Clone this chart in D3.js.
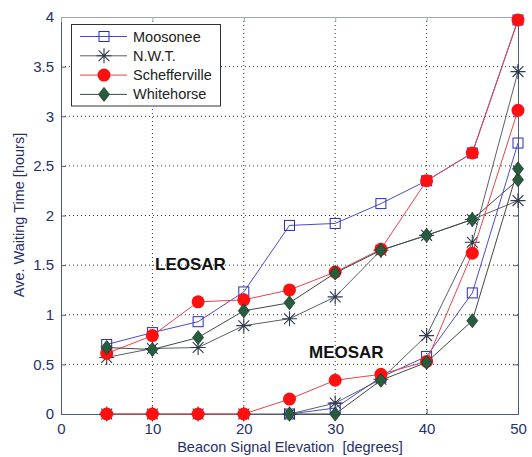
<!DOCTYPE html>
<html>
<head>
<meta charset="utf-8">
<script src="https://cdn.jsdelivr.net/npm/d3@7"></script>
<style>
  body { margin: 0; background: #fff; }
  text { font-family: "Liberation Sans", Arial, sans-serif; }
</style>
</head>
<body>
<div class="chart"></div>
<script>
// data
let elevations = [5, 10, 15, 20, 25, 30, 35, 40, 45, 50];
let xTicks = [0, 10, 20, 30, 40, 50];
let yTicks = [0, 0.5, 1, 1.5, 2, 2.5, 3, 3.5, 4];

// LEOSAR curves
let leoMoosonee = [0.70, 0.82, 0.93, 1.23, 1.90, 1.92, 2.12, 2.35, 2.63, 3.97];
let leoNWT = [0.57, 0.66, 0.67, 0.89, 0.96, 1.18, 1.65, 1.80, 1.96, 2.15];
let leoSchefferville = [0.61, 0.79, 1.13, 1.15, 1.25, 1.43, 1.66, 2.35, 2.63, 3.97];
let leoWhitehorse = [0.67, 0.65, 0.77, 1.04, 1.12, 1.42, 1.65, 1.80, 1.96, 2.36];

// MEOSAR curves (null = no point)
let meoMoosonee = [null, null, null, null, 0, 0.06, 0.37, 0.58, 1.22, 2.73];
let meoNWT = [0, 0, 0, 0, 0, 0.11, 0.35, 0.79, 1.73, 3.45];
let meoSchefferville = [0, 0, 0, 0, 0.15, 0.34, 0.40, 0.53, 1.62, 3.06];
let meoWhitehorse = [null, null, null, null, 0, 0, 0.34, 0.52, 0.94, 2.47];

let seriesNames = ['Moosonee', 'N.W.T.', 'Schefferville', 'Whitehorse'];

let styles = {
  'Moosonee': { line: '#4a4ad0', mark: '#2b2bb8', type: 'square' },
  'N.W.T.': { line: '#5a5f66', mark: '#2f3a4e', type: 'star' },
  'Schefferville': { line: '#e8444c', mark: '#ff1010', type: 'circle' },
  'Whitehorse': { line: '#3f4a44', mark: '#275c3e', type: 'diamond' }
};

let series = [
  { name: 'Moosonee', values: leoMoosonee },
  { name: 'N.W.T.', values: leoNWT },
  { name: 'Schefferville', values: leoSchefferville },
  { name: 'Whitehorse', values: leoWhitehorse },
  { name: 'Moosonee', values: meoMoosonee },
  { name: 'N.W.T.', values: meoNWT },
  { name: 'Schefferville', values: meoSchefferville },
  { name: 'Whitehorse', values: meoWhitehorse }
];

let margin = { left: 61, right: 14, top: 17, bottom: 43 };
let width = 532, height = 457;

let svg = d3.select('.chart').append('svg')
    .attr('width', width)
    .attr('height', height);

let x = d3.scaleLinear().domain([0, 50]).range([margin.left, width - margin.right]);
let y = d3.scaleLinear().domain([0, 4]).range([height - margin.bottom, margin.top]);

let navy = '#27306a';

/////// GRID ///////////////////////////////////////

svg.append('g').selectAll('line')
  .data(xTicks.slice(1, -1))
  .enter().append('line')
    .attr('x1', d => x(d)).attr('x2', d => x(d))
    .attr('y1', y(0)).attr('y2', y(4))
    .attr('stroke', '#333').attr('stroke-width', 1)
    .attr('stroke-dasharray', '1,3');

svg.append('g').selectAll('line')
  .data(yTicks.slice(1, -1))
  .enter().append('line')
    .attr('x1', x(0)).attr('x2', x(50))
    .attr('y1', d => y(d)).attr('y2', d => y(d))
    .attr('stroke', '#333').attr('stroke-width', 1)
    .attr('stroke-dasharray', '1,3');

/////// AXES ///////////////////////////////////////

let xAxis = svg.append('g')
    .attr('transform', `translate(0,${y(0)})`)
    .call(d3.axisBottom(x).tickValues(xTicks).tickSize(-5).tickPadding(9));
let yAxis = svg.append('g')
    .attr('transform', `translate(${x(0)},0)`)
    .call(d3.axisLeft(y).tickValues(yTicks).tickSize(-5).tickPadding(7).tickFormat(d3.format('')));
let yAxisR = svg.append('g')
    .attr('transform', `translate(${x(50)},0)`)
    .call(d3.axisRight(y).tickValues(yTicks).tickSize(-5).tickFormat(''));
let xAxisT = svg.append('g')
    .attr('transform', `translate(0,${y(4)})`)
    .call(d3.axisTop(x).tickValues(xTicks).tickSize(-5).tickFormat(''));

[xAxis, yAxis, yAxisR].forEach(g => {
  g.select('.domain').attr('stroke', '#4a5a80');
  g.selectAll('.tick line').attr('stroke', '#4a5a80');
  g.selectAll('.tick text').attr('fill', navy).style('font-size', '15px');
});
xAxisT.select('.domain').attr('stroke', '#a0a6b4');
xAxisT.selectAll('.tick line').attr('stroke', '#a0a6b4');

svg.append('text')
    .attr('x', 290).attr('y', 452)
    .attr('text-anchor', 'middle')
    .attr('fill', navy)
    .style('font-size', '14.5px')
    .style('white-space', 'pre')
    .text('Beacon Signal Elevation  [degrees]');

svg.append('text')
    .attr('transform', 'translate(24,215) rotate(-90)')
    .attr('text-anchor', 'middle')
    .attr('fill', navy)
    .style('font-size', '14.5px')
    .text('Ave. Waiting Time [hours]');

/////// MARKERS ///////////////////////////////////////

let drawMarker = function(g, type, cx, cy, st) {
  if (type === 'square') {
    g.append('rect').attr('x', cx - 5).attr('y', cy - 5).attr('width', 10).attr('height', 10)
      .attr('fill', 'none').attr('stroke', st.mark).attr('stroke-width', 1);
  } else if (type === 'circle') {
    g.append('circle').attr('cx', cx).attr('cy', cy).attr('r', 6.5).attr('fill', st.mark);
  } else if (type === 'diamond') {
    g.append('path')
      .attr('d', `M${cx},${cy - 7}L${cx + 5.5},${cy}L${cx},${cy + 7}L${cx - 5.5},${cy}Z`)
      .attr('fill', st.mark).attr('stroke', '#1d3a2a').attr('stroke-width', 0.8);
  } else if (type === 'star') {
    let r = 7.5;
    let p = `M${cx - r},${cy}L${cx + r},${cy}M${cx},${cy - r}L${cx},${cy + r}` +
      `M${cx - r * 0.72},${cy - r * 0.72}L${cx + r * 0.72},${cy + r * 0.72}` +
      `M${cx - r * 0.72},${cy + r * 0.72}L${cx + r * 0.72},${cy - r * 0.72}`;
    g.append('path').attr('d', p).attr('stroke', st.mark).attr('stroke-width', 1.1).attr('fill', 'none');
  }
};

let line = d3.line()
    .defined(d => d.v !== null)
    .x(d => x(d.e))
    .y(d => y(d.v));

let plot = svg.append('g');
series.forEach(s => {
  let st = styles[s.name];
  let pts = elevations.map((e, i) => ({ e: e, v: s.values[i] }));
  let g = plot.append('g');
  g.append('path')
    .datum(pts)
    .attr('d', line)
    .attr('fill', 'none')
    .attr('stroke', st.line)
    .attr('stroke-width', 1);
  pts.filter(d => d.v !== null).forEach(d => drawMarker(g, st.type, x(d.e), y(d.v), st));
});

/////// LABELS ///////////////////////////////////////

svg.append('text').attr('x', 155).attr('y', 270)
    .style('font-size', '17px').style('font-weight', 'bold').attr('fill', '#111')
    .text('LEOSAR');
svg.append('text').attr('x', 309).attr('y', 358)
    .style('font-size', '17px').style('font-weight', 'bold').attr('fill', '#111')
    .text('MEOSAR');

/////// LEGEND ///////////////////////////////////////

let legend = svg.append('g');
legend.append('rect')
    .attr('x', 71.5).attr('y', 24.5).attr('width', 149).attr('height', 81.5)
    .attr('fill', '#fff').attr('stroke', '#333').attr('stroke-width', 1);

seriesNames.forEach((name, i) => {
  let st = styles[name];
  let ly = 36.5 + i * 19.3;
  let g = legend.append('g');
  g.append('line').attr('x1', 80).attr('x2', 127).attr('y1', ly).attr('y2', ly)
    .attr('stroke', st.line).attr('stroke-width', 1);
  drawMarker(g, st.type, 104, ly, st);
  g.append('text').attr('x', 133).attr('y', ly + 5)
    .attr('fill', '#222').style('font-size', '14.5px')
    .text(name);
});
</script>
</body>
</html>
